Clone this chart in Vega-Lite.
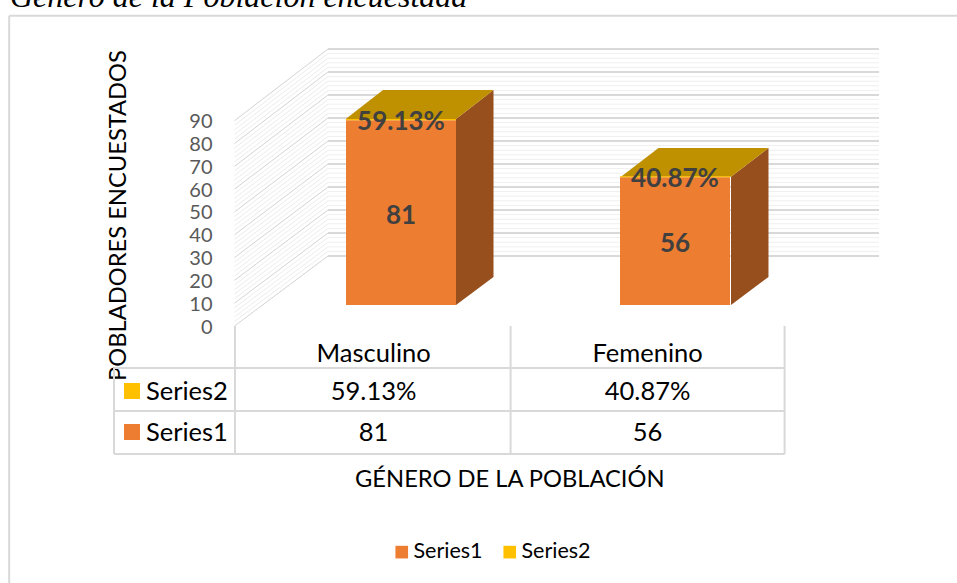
{
 "$schema":"https://vega.github.io/schema/vega-lite/v6.json",
 "width":957,"height":583,"autosize":"none","padding":0,
 "background":"white",
 "config":{"view":{"stroke":null},"font":"Lato"},
 "datasets":{
  "niveles":[
   {"nivel":2,"frente":2,"fondo":32.70},{"nivel":4,"frente":4,"fondo":34.72},{"nivel":6,"frente":6,"fondo":36.74},{"nivel":8,"frente":8,"fondo":38.75},
   {"nivel":12,"frente":12,"fondo":42.79},{"nivel":14,"frente":14,"fondo":44.81},{"nivel":16,"frente":16,"fondo":46.82},{"nivel":18,"frente":18,"fondo":48.84},
   {"nivel":22,"frente":22,"fondo":52.87},{"nivel":24,"frente":24,"fondo":54.89},{"nivel":26,"frente":26,"fondo":56.91},{"nivel":28,"frente":28,"fondo":58.92},
   {"nivel":32,"frente":32,"fondo":62.96},{"nivel":34,"frente":34,"fondo":64.97},{"nivel":36,"frente":36,"fondo":66.99},{"nivel":38,"frente":38,"fondo":69.01},
   {"nivel":42,"frente":42,"fondo":73.04},{"nivel":44,"frente":44,"fondo":75.06},{"nivel":46,"frente":46,"fondo":77.07},{"nivel":48,"frente":48,"fondo":79.09},
   {"nivel":52,"frente":52,"fondo":83.12},{"nivel":54,"frente":54,"fondo":85.14},{"nivel":56,"frente":56,"fondo":87.16},{"nivel":58,"frente":58,"fondo":89.17},
   {"nivel":62,"frente":62,"fondo":93.21},{"nivel":64,"frente":64,"fondo":95.22},{"nivel":66,"frente":66,"fondo":97.24},{"nivel":68,"frente":68,"fondo":99.26},
   {"nivel":72,"frente":72,"fondo":103.29},{"nivel":74,"frente":74,"fondo":105.31},{"nivel":76,"frente":76,"fondo":107.32},{"nivel":78,"frente":78,"fondo":109.34},
   {"nivel":82,"frente":82,"fondo":113.37},{"nivel":84,"frente":84,"fondo":115.39},{"nivel":86,"frente":86,"fondo":117.41},{"nivel":88,"frente":88,"fondo":119.42},
   {"nivel":0,"frente":0,"fondo":30.69},{"nivel":10,"frente":10,"fondo":40.77},{"nivel":20,"frente":20,"fondo":50.86},{"nivel":30,"frente":30,"fondo":60.94},{"nivel":40,"frente":40,"fondo":71.02},{"nivel":50,"frente":50,"fondo":81.11},{"nivel":60,"frente":60,"fondo":91.19},{"nivel":70,"frente":70,"fondo":101.27},{"nivel":80,"frente":80,"fondo":111.36},{"nivel":90,"frente":90,"fondo":121.44}
  ],
  "lados":[
   {"barra":"Masculino","x":0.7007,"y":90.75,"y2":9.21},{"barra":"Masculino","x":0.8376,"y":103.46,"y2":21.48},
   {"barra":"Femenino","x":1.7044,"y":65.45,"y2":9.21},{"barra":"Femenino","x":1.8412,"y":78.04,"y2":21.48}
  ],
  "tapas":[
   {"barra":"Masculino","y":90.75,"x":0.2982,"x2":0.7007},{"barra":"Masculino","y":103.46,"x":0.4343,"x2":0.8376},
   {"barra":"Femenino","y":65.45,"x":1.3029,"x2":1.7044},{"barra":"Femenino","y":78.04,"x":1.4398,"x2":1.8412}
  ],
  "tablaH":[{"y":-18.41},{"y":-37.26},{"y":-56.12}],
  "tablaV":[
   {"x":-0.5474,"y":-18.41,"y2":-56.12},{"x":-0.1058,"y":0,"y2":-56.12},{"x":0.9,"y":0,"y2":-56.12},{"x":1.9,"y":0,"y2":-56.12}
  ],
  "textos":[
   {"texto":"Masculino","x":0.4,"y":-11.84},{"texto":"Femenino","x":1.4,"y":-11.84},
   {"texto":"59.13%","x":0.4,"y":-28.5},{"texto":"40.87%","x":1.4,"y":-28.5},
   {"texto":"81","x":0.4,"y":-46.47},{"texto":"56","x":1.4,"y":-46.47}
  ],
  "filas":[
   {"serie":"Series2","xc":-0.4818,"xt":-0.4307,"y":-28.5},
   {"serie":"Series1","xc":-0.4818,"xt":-0.4307,"y":-46.47}
  ],
  "valores":[
   {"genero":"Masculino","serie":"Series1","valor":81,"etiqueta":"81"},
   {"genero":"Masculino","serie":"Series2","valor":0.5913,"etiqueta":"59.13%"},
   {"genero":"Femenino","serie":"Series1","valor":56,"etiqueta":"56"},
   {"genero":"Femenino","serie":"Series2","valor":0.4087,"etiqueta":"40.87%"}
  ]
 },
 "layer":[
  {
   "layer":[
    {"data":{"name":"niveles"},
     "mark":{"type":"rule","strokeWidth":1},
     "encoding":{
      "x":{"datum":-0.1077,"type":"quantitative","scale":{"domain":[-0.9635,2.5292],"nice":false,"zero":false},"axis":null},
      "x2":{"datum":0.2336},
      "y":{"field":"frente","type":"quantitative","scale":{"domain":[-112.67,142.92],"nice":false,"zero":false},"axis":null},
      "y2":{"field":"fondo"},
      "color":{"condition":{"test":"datum.nivel % 10 === 0","value":"#D4D4D4"},"value":"#ECECEC"},
      "strokeWidth":{"condition":{"test":"datum.nivel % 10 === 0","value":2},"value":1}
     }},
    {"data":{"name":"niveles"},
     "mark":{"type":"rule"},
     "encoding":{
      "x":{"datum":0.2336,"type":"quantitative","axis":null},
      "x2":{"datum":2.2445},
      "y":{"field":"fondo","type":"quantitative","axis":null},
      "color":{"condition":{"test":"datum.nivel % 10 === 0","value":"#D9D9D9"},"value":"#EFEFEF"},
      "strokeWidth":{"condition":{"test":"datum.nivel % 10 === 0","value":2},"value":1}
     }},
    {"data":{"name":"lados"},
     "mark":{"type":"area","color":"#974F1E"},
     "encoding":{
      "x":{"field":"x","type":"quantitative","axis":null},
      "y":{"field":"y","type":"quantitative","axis":null},
      "y2":{"field":"y2"},
      "detail":{"field":"barra"}
     }},
    {"data":{"name":"tapas"},
     "mark":{"type":"area","orient":"horizontal","color":"#BF9000"},
     "encoding":{
      "y":{"field":"y","type":"quantitative","axis":null},
      "x":{"field":"x","type":"quantitative","axis":null},
      "x2":{"field":"x2"},
      "detail":{"field":"barra"}
     }},
    {"data":{"name":"tablaH"},
     "mark":{"type":"rule","color":"#D9D9D9","strokeWidth":2},
     "encoding":{
      "x":{"datum":-0.5474,"type":"quantitative","axis":null},
      "x2":{"datum":1.9},
      "y":{"field":"y","type":"quantitative","axis":null}
     }},
    {"data":{"name":"tablaV"},
     "mark":{"type":"rule","color":"#D9D9D9","strokeWidth":2},
     "encoding":{
      "x":{"field":"x","type":"quantitative","axis":null},
      "y":{"field":"y","type":"quantitative","axis":null},
      "y2":{"field":"y2"}
     }},
    {"data":{"name":"textos"},
     "mark":{"type":"text","fontSize":25.5,"color":"#000000","align":"center","baseline":"middle","dy":1},
     "encoding":{
      "x":{"field":"x","type":"quantitative","axis":null},
      "y":{"field":"y","type":"quantitative","axis":null},
      "text":{"field":"texto"}
     }},
    {"data":{"values":[{"texto":"GÉNERO DE LA POBLACIÓN","x":0.897,"y":-67.2}]},
     "mark":{"type":"text","fontSize":23.7,"color":"#000000","align":"center","baseline":"middle","dy":1},
     "encoding":{
      "x":{"field":"x","type":"quantitative","axis":null},
      "y":{"field":"y","type":"quantitative","axis":null},
      "text":{"field":"texto"}
     }},
    {"data":{"name":"filas"},
     "mark":{"type":"text","fontSize":25.5,"color":"#000000","align":"left","baseline":"middle","dy":1},
     "encoding":{
      "x":{"field":"xt","type":"quantitative","axis":null},
      "y":{"field":"y","type":"quantitative","axis":null},
      "text":{"field":"serie"}
     }},
    {"data":{"name":"filas"},
     "mark":{"type":"point","shape":"square","filled":true,"size":256,"opacity":1},
     "encoding":{
      "x":{"field":"xc","type":"quantitative","axis":null},
      "y":{"field":"y","type":"quantitative","axis":null},
      "color":{"field":"serie","type":"nominal","scale":{"domain":["Series1","Series2"],"range":["#ED7D31","#FFC000"]},"legend":null}
     }},
    {"data":{"values":[{"texto":"Género de la Población encuestada","x":-0.9271,"y":139.85}]},
     "mark":{"type":"text","font":"Liberation Serif","fontStyle":"italic","fontSize":32,"color":"#000000","align":"left","baseline":"alphabetic"},
     "encoding":{
      "x":{"field":"x","type":"quantitative","axis":null},
      "y":{"field":"y","type":"quantitative","axis":null},
      "text":{"field":"texto"}
     }},
    {"data":{"values":[{"x":-0.93,"x2":2.5292,"y":136.0}]},
     "mark":{"type":"rule","color":"#D9D9D9","strokeWidth":2},
     "encoding":{
      "x":{"field":"x","type":"quantitative","axis":null},
      "x2":{"field":"x2"},
      "y":{"field":"y","type":"quantitative","axis":null}
     }},
    {"data":{"values":[{"x":-0.93,"y":136.0,"y2":-112.67}]},
     "mark":{"type":"rule","color":"#D9D9D9","strokeWidth":2},
     "encoding":{
      "x":{"field":"x","type":"quantitative","axis":null},
      "y":{"field":"y","type":"quantitative","axis":null},
      "y2":{"field":"y2"}
     }}
   ]
  },
  {
   "data":{"values":[{"v":0},{"v":90}]},
   "mark":{"type":"point","opacity":0},
   "encoding":{
    "y":{"field":"v","type":"quantitative","scale":{"domain":[-112.67,142.92],"nice":false,"zero":false},
     "axis":{"values":[0,10,20,30,40,50,60,70,80,90],"offset":-234,"domain":false,"ticks":false,"grid":false,"labelPadding":22,"labelFontSize":20,"labelOffset":1,"labelColor":"#595959","labelFont":"Lato",
      "title":"POBLADORES ENCUESTADOS","titleFontSize":23.7,"titleFontWeight":"normal","titleColor":"#000000","titleFont":"Lato","titleX":-116,"titleY":215,"titleAlign":"center","titleBaseline":"middle"}}
   }
  },
  {
   "data":{"name":"valores"},
   "layer":[
    {"mark":{"type":"bar","size":110},
     "encoding":{
      "x":{"field":"genero","type":"nominal","sort":["Masculino","Femenino"],"scale":{"domain":["Masculino","Femenino"],"range":[264,812],"paddingInner":0,"paddingOuter":0},"axis":null},
      "y":{"field":"valor","type":"quantitative","stack":"zero","scale":{"domain":[-121.88,133.71],"nice":false,"zero":false},"axis":null},
      "order":{"field":"serie","sort":"ascending"},
      "color":{"field":"serie","type":"nominal","scale":{"domain":["Series1","Series2"],"range":["#ED7D31","#FFC000"]},
       "legend":{"orient":"none","legendX":391,"legendY":541,"direction":"horizontal","title":null,"symbolType":"square","symbolSize":160,"symbolStrokeWidth":0,"labelFontSize":21.5,"labelColor":"#000000","labelFont":"Lato","columnPadding":16,"labelOffset":1}}
     }},
    {"transform":[
      {"joinaggregate":[{"op":"sum","field":"valor","as":"total"}],"groupby":["genero"]},
      {"calculate":"datum.serie === 'Series1' ? datum.valor / 2 : datum.total","as":"pos"}
     ],
     "mark":{"type":"text","fontSize":26,"fontWeight":"bold","color":"#404040","align":"center","baseline":"middle","dy":3},
     "encoding":{
      "x":{"field":"genero","type":"nominal","sort":["Masculino","Femenino"],"axis":null},
      "y":{"field":"pos","type":"quantitative","axis":null},
      "text":{"field":"etiqueta"}
     }}
   ]
  }
 ],
 "resolve":{"scale":{"x":"independent","y":"independent","color":"independent"}}
}
